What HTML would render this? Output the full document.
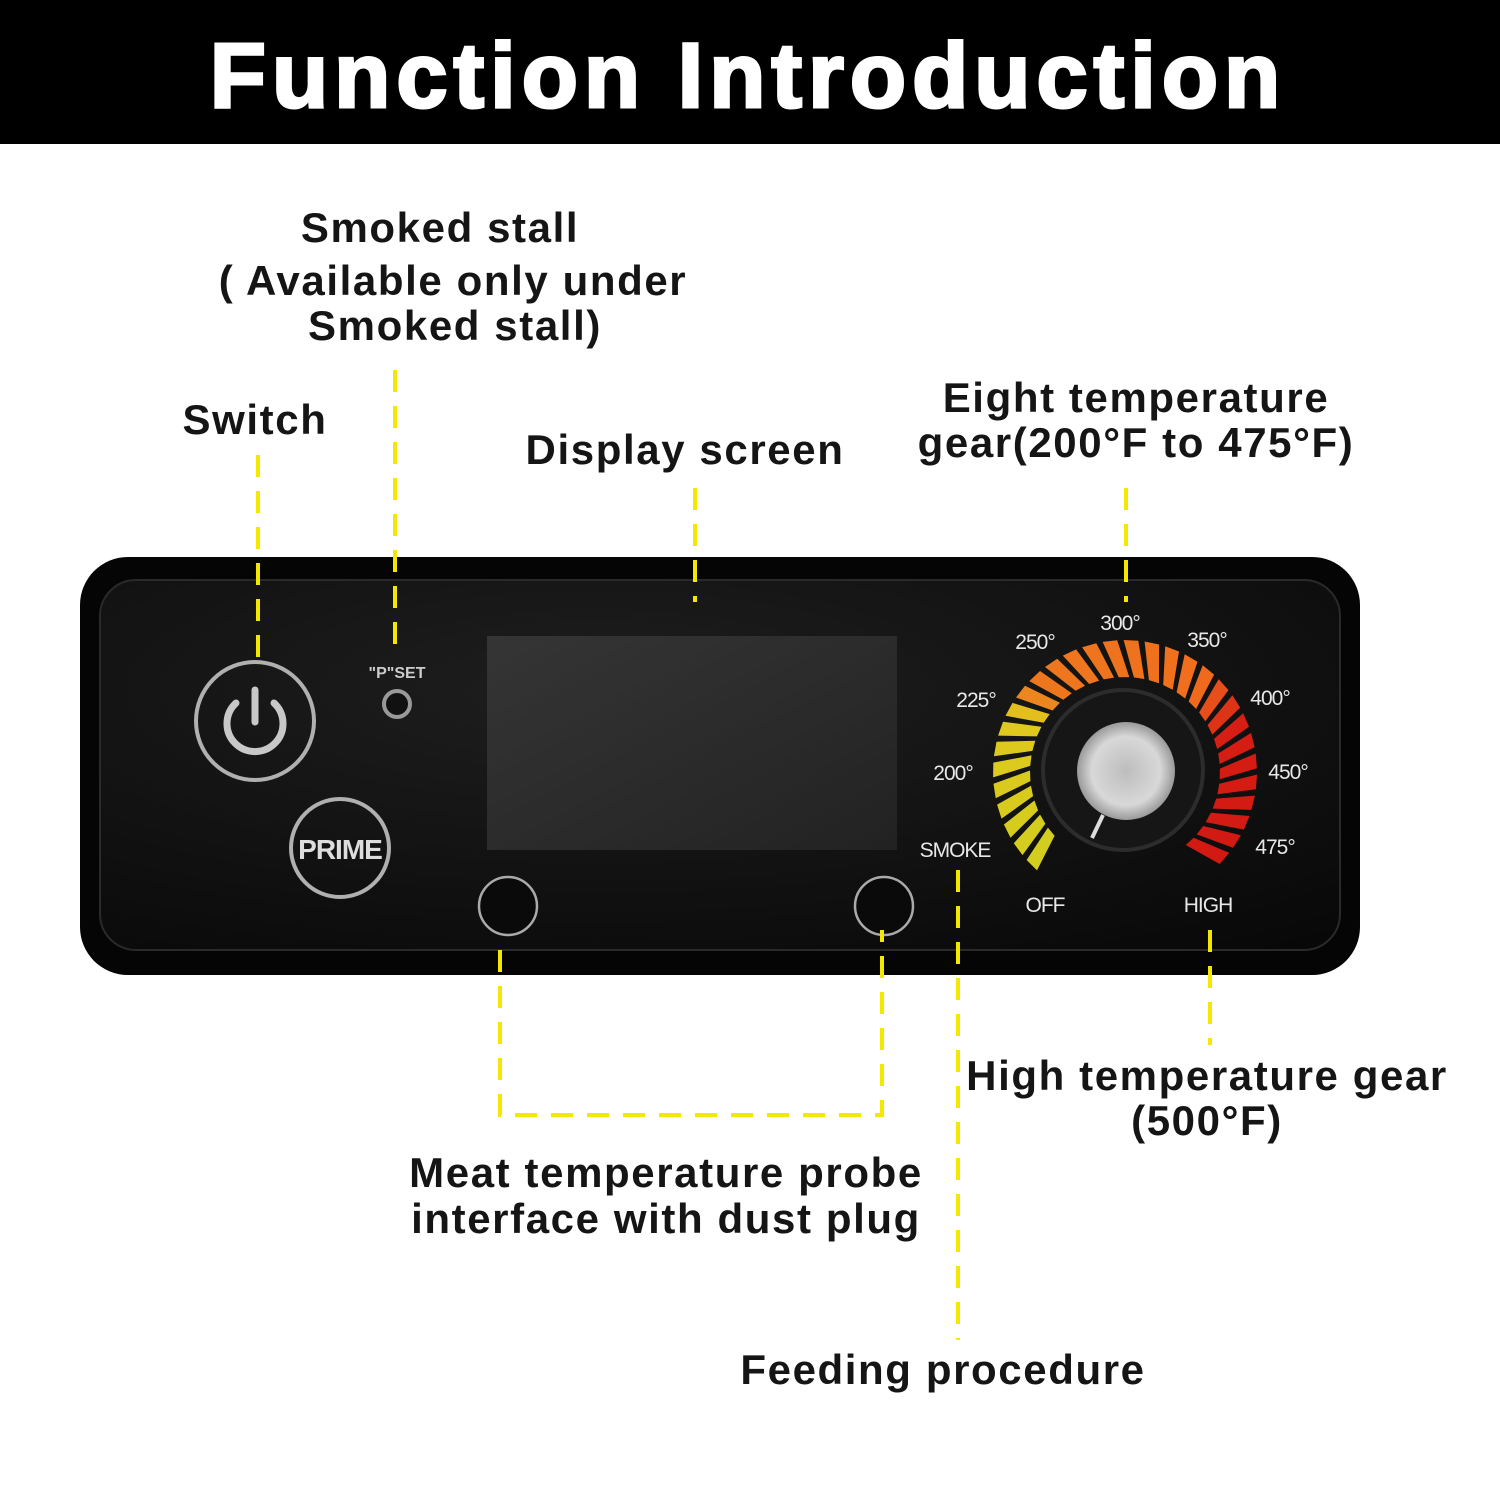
<!DOCTYPE html>
<html><head><meta charset="utf-8"><style>
html,body{margin:0;padding:0;background:#fff}
svg{display:block}
.l{font-family:"Liberation Sans",sans-serif;font-weight:bold;font-size:42px;fill:#151515;text-anchor:middle;letter-spacing:1.6px}
.d{font-family:"Liberation Sans",sans-serif;font-size:21px;fill:#e8e8e8;text-anchor:middle;letter-spacing:-1px}
.y{stroke:#f5e800;stroke-width:4;stroke-dasharray:22 14;fill:none}
</style></head><body>
<svg id="s" width="1500" height="1500" viewBox="0 0 1500 1500" xmlns="http://www.w3.org/2000/svg">
<defs>
<radialGradient id="pn" cx="0.4" cy="0.3" r="0.9"><stop offset="0" stop-color="#1e1e1e"/><stop offset="1" stop-color="#080808"/></radialGradient>
<linearGradient id="sc" x1="0" y1="0" x2="1" y2="1"><stop offset="0" stop-color="#353535"/><stop offset="1" stop-color="#222"/></linearGradient>
<radialGradient id="sv" cx="0.5" cy="0.5" r="0.5"><stop offset="0" stop-color="#bdbdbd"/><stop offset="0.7" stop-color="#d8d8d8"/><stop offset="1" stop-color="#999"/></radialGradient>
</defs>
<rect x="0" y="0" width="1500" height="144" fill="#000"/>
<text x="748" y="107" font-family="Liberation Sans,sans-serif" font-weight="bold" font-size="92" fill="#fff" stroke="#fff" stroke-width="3" text-anchor="middle" letter-spacing="6">Function Introduction</text>

<text class="l" x="440" y="242">Smoked stall</text>
<text class="l" x="453" y="295">( Available only under</text>
<text class="l" x="455" y="340">Smoked stall)</text>
<text class="l" x="255" y="434">Switch</text>
<text class="l" x="685" y="464">Display screen</text>
<text class="l" x="1136" y="412">Eight temperature</text>
<text class="l" x="1136" y="457">gear(200°F to 475°F)</text>
<text class="l" x="1207" y="1090">High temperature gear</text>
<text class="l" x="1207" y="1135">(500°F)</text>
<text class="l" x="666" y="1187">Meat temperature probe</text>
<text class="l" x="666" y="1233">interface with dust plug</text>
<text class="l" x="943" y="1384">Feeding procedure</text>

<rect x="80" y="557" width="1280" height="418" rx="48" fill="#050505"/>
<rect x="100" y="580" width="1240" height="370" rx="36" fill="url(#pn)" stroke="#2a2a2a" stroke-width="2"/>
<rect x="487" y="636" width="410" height="214" fill="url(#sc)"/>

<circle cx="255" cy="721" r="59" fill="none" stroke="#b0b0b0" stroke-width="4"/>
<path d="M236 703 A28 28 0 1 0 274 703" fill="none" stroke="#c8c8c8" stroke-width="7" stroke-linecap="round"/>
<line x1="255" y1="690" x2="255" y2="722" stroke="#c8c8c8" stroke-width="7" stroke-linecap="round"/>
<circle cx="340" cy="848" r="49" fill="none" stroke="#b0b0b0" stroke-width="4"/>
<text x="340" y="859" font-family="Liberation Sans,sans-serif" font-weight="bold" font-size="28" fill="#ddd" text-anchor="middle" letter-spacing="-1">PRIME</text>
<text x="397" y="678" font-family="Liberation Sans,sans-serif" font-weight="bold" font-size="16" fill="#ccc" text-anchor="middle">"P"SET</text>
<circle cx="397" cy="704" r="13" fill="#111" stroke="#999" stroke-width="4"/>
<circle cx="508" cy="906" r="29" fill="#0a0a0a" stroke="#aaa" stroke-width="2.5"/>
<circle cx="884" cy="906" r="29" fill="#0a0a0a" stroke="#aaa" stroke-width="2.5"/>

<g id="arc"></g>
<circle cx="1123" cy="770" r="80" fill="#161616" stroke="#2c2c2c" stroke-width="4"/>
<circle cx="1126" cy="771" r="49" fill="url(#sv)"/>
<line x1="1103" y1="815" x2="1092" y2="838" stroke="#ddd" stroke-width="4"/>

<text class="d" x="1120" y="630">300°</text>
<text class="d" x="1035" y="649">250°</text>
<text class="d" x="1207" y="647">350°</text>
<text class="d" x="976" y="707">225°</text>
<text class="d" x="1270" y="705">400°</text>
<text class="d" x="953" y="780">200°</text>
<text class="d" x="1288" y="779">450°</text>
<text class="d" x="1275" y="854">475°</text>
<text class="d" x="955" y="857">SMOKE</text>
<text class="d" x="1045" y="912">OFF</text>
<text class="d" x="1208" y="912">HIGH</text>

<line class="y" x1="258" y1="455" x2="258" y2="660"/>
<line class="y" x1="395" y1="370" x2="395" y2="648"/>
<line class="y" x1="695" y1="488" x2="695" y2="602"/>
<line class="y" x1="1126" y1="488" x2="1126" y2="602"/>
<line class="y" x1="958" y1="870" x2="958" y2="1340"/>
<line class="y" x1="1210" y1="930" x2="1210" y2="1045"/>
<polyline class="y" points="500,950 500,1115 882,1115 882,930"/>
</svg>
<script>
(function(){
var g=document.getElementById('arc'),cx=1125,cy=772,ri=95,ro=132,n=30,a0=141,a1=407;
function col(t){
 var s=[[0,[210,205,30]],[0.27,[225,200,30]],[0.32,[238,120,30]],[0.65,[240,110,30]],[0.75,[215,30,20]],[1,[210,25,18]]];
 for(var i=0;i<s.length-1;i++){if(t<=s[i+1][0]){var u=(t-s[i][0])/(s[i+1][0]-s[i][0]);var a=s[i][1],b=s[i+1][1];return 'rgb('+[0,1,2].map(function(k){return Math.round(a[k]+(b[k]-a[k])*u)}).join(',')+')';}}
 return 'rgb(210,25,18)';}
for(var i=0;i<n;i++){
 var a=a0+(a1-a0)*i/(n-1),w=3.2,tl=-6;
 function p(r,d){var q=(d)*Math.PI/180;return (cx+r*Math.cos(q)).toFixed(1)+','+(cy+r*Math.sin(q)).toFixed(1);}
 var pts=[p(ri,a-w),p(ri,a+w),p(ro,a+w+tl),p(ro,a-w+tl)].join(' ');
 var e=document.createElementNS('http://www.w3.org/2000/svg','polygon');
 e.setAttribute('points',pts);e.setAttribute('fill',col(i/(n-1)));g.appendChild(e);}
})();
</script>
</body></html>
